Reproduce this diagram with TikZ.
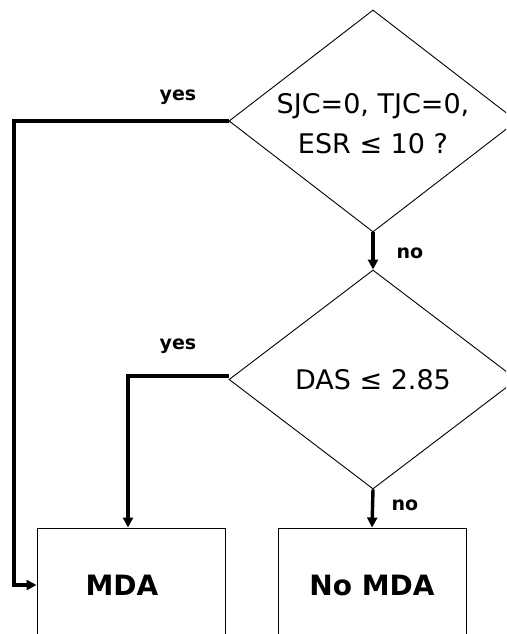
\documentclass[tikz,border=0pt]{standalone}
\usepackage{fontspec}
\setmainfont{DejaVu Sans}
\usetikzlibrary{shapes.geometric,arrows.meta}
\begin{document}
\begin{tikzpicture}[x=1pt,y=-1pt,
  dec/.style={draw,diamond,line width=0.9pt,inner sep=0pt,minimum width=288pt,minimum height=222pt},
  endbox/.style={draw,rectangle,line width=1pt,inner sep=0pt,minimum width=188pt,minimum height=160pt},
  conn/.style={line width=3.4pt,-{Triangle[length=10pt,width=10pt]}},
  qtext/.style={font=\fontsize{27}{40}\selectfont,align=center,inner sep=0pt},
  lbl/.style={font=\fontsize{19}{22}\selectfont\bfseries,inner sep=0pt},
  btext/.style={font=\fontsize{28}{30}\selectfont\bfseries,inner sep=0pt}]
\useasboundingbox (0,0) rectangle (506,634);
\clip (0,0) rectangle (506,634);
\fill[white] (0,0) rectangle (506,634);
% decisions
\node[dec] (d1) at (373,121) {};
\node[qtext] (q1) at (373,124) {SJC=0, TJC=0,\\ESR ≤ 10 ?};
\node[dec,minimum height=219pt] (d2) at (373,379.5) {};
\node[qtext] (q2) at (373,380) {DAS ≤ 2.85};
% end boxes
\node[endbox] (mda) at (131,608) {};
\node[btext] (tmda) at (122,585) {MDA};
\node[endbox] (nomda) at (372,608) {};
\node[btext] (tnomda) at (372,585) {No MDA};
% connectors
\coordinate (c1) at (14,585);
\draw[conn] (d1.west) -| (c1) -- (mda.west |- c1);
\draw[conn] (d2.west |- 0,376) -| ([xshift=-3pt]mda.north);
\draw[conn] (d1.south) -- (d2.north);
\draw[conn] (d2.south) -- (nomda.north);
% labels
\node[lbl] (y1) at (178,97) {yes};
\node[lbl] (y2) at (178,346) {yes};
\node[lbl] (n1) at (410,253) {no};
\node[lbl] (n2) at (405,505) {no};
\end{tikzpicture}
\end{document}
